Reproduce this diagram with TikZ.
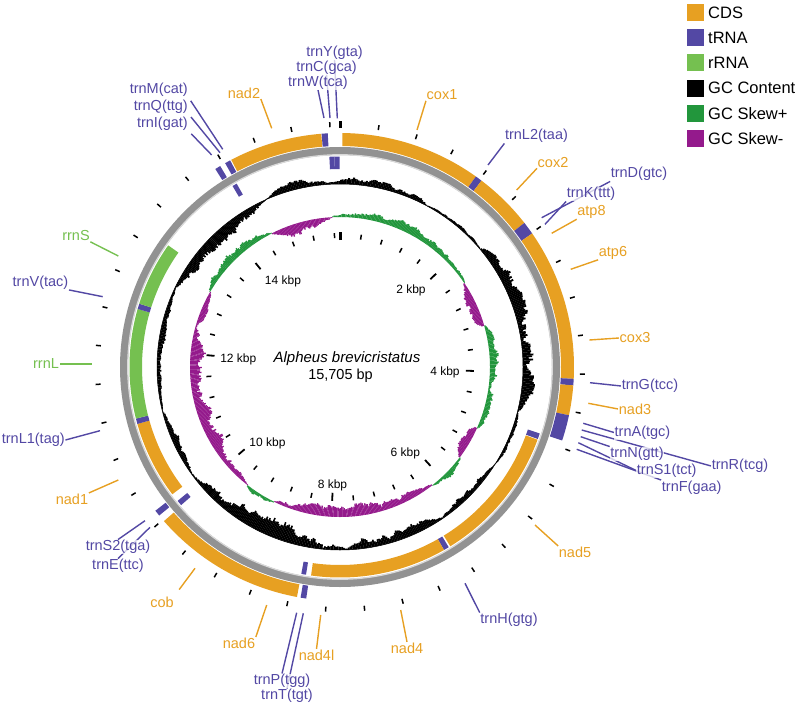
\documentclass[tikz,border=0pt]{standalone}
\usepackage{fontspec}
\setmainfont{Liberation Sans}
\usetikzlibrary{backgrounds}

\definecolor{cdsorange}{RGB}{231,160,34}
\definecolor{trnapurple}{RGB}{83,72,164}
\definecolor{rrnagreen}{RGB}{117,192,80}
\definecolor{skewplus}{RGB}{34,150,60}
\definecolor{skewminus}{RGB}{148,26,140}
\definecolor{ringgray}{RGB}{146,146,146}

% feature on the ring: from, to (degrees clockwise from top), inner r, outer r, colour
\newcommand{\feat}[5]{%
  \pgfmathsetmacro{\feata}{#1-90}\pgfmathsetmacro{\featb}{#2-90}%
  \fill[#5] (\feata:#3) arc[start angle=\feata, end angle=\featb, radius=#3]
    -- (\featb:#4) arc[start angle=\featb, end angle=\feata, radius=#4] -- cycle;}

% jagged plot track: colour, base r, from, to, peak (smoothed random walk)
\def\tkwalk{0}
\newcommand{\trackpart}[5]{%
  \pgfmathtruncatemacro{\nstep}{2*(#4-(#3))-1}
  \foreach \k in {0,...,\nstep}{
    \pgfmathsetmacro{\tka}{#3+0.5*\k-90}
    \pgfmathsetmacro{\tkw}{0.88*\tkwalk+0.36*(rnd-0.5)}
    \global\let\tkwalk\tkw
    \pgfmathsetmacro{\tkr}{#2+(#5)*sqrt(sin(180*((\k+0.5)/(\nstep+1))))*(0.72+\tkw+0.16*rnd)}
    \fill[#1] (\tka:#2) -- (\tka:\tkr) -- (\tka+0.55:\tkr) -- (\tka+0.55:#2) -- cycle;
  }}

\begin{document}
\begin{tikzpicture}[x=1pt, y=-1pt,
    lbl/.style={font=\fontsize{14.5}{16}\selectfont, inner sep=0.5pt, fill=white, fill opacity=0.75, text opacity=1},
    cdslbl/.style={lbl, text=cdsorange},
    trnlbl/.style={lbl, text=trnapurple},
    rrnlbl/.style={lbl, text=rrnagreen},
    cdsline/.style={cdsorange, line width=1.4},
    trnline/.style={trnapurple, line width=1.4},
    rrnline/.style={rrnagreen, line width=1.4},
    kbplbl/.style={font=\fontsize{12}{14}\selectfont, inner sep=0.5pt},
    tickmark/.style={line width=1.5},
    keybox/.style={minimum size=17, inner sep=0},
    keytext/.style={font=\fontsize{16.5}{18}\selectfont, anchor=west, inner sep=0.5pt}]
    \pgfmathsetseed{11}
    \useasboundingbox (0,0) rectangle (800,706);

    \begin{scope}[shift={(340,367)}]
        % Backbone
        \draw[ringgray, line width=8] (0,0) circle[radius=216];
        \draw[gray!30, line width=1.2] (0,0) circle[radius=212.3];

        % Plus strand
        \feat{0.6}{35.5}{221}{234}{cdsorange}     % cox1
        \feat{35.5}{37.2}{221}{234}{trnapurple}   % trnL2
        \feat{37.2}{52.0}{221}{234}{cdsorange}    % cox2
        \feat{52.0}{55.2}{221}{234}{trnapurple}   % trnK, trnD
        \feat{55.2}{92.9}{221}{234}{cdsorange}    % atp8, atp6, cox3
        \feat{92.9}{94.5}{221}{234}{trnapurple}   % trnG
        \feat{94.5}{101.9}{221}{234}{cdsorange}   % nad3
        \feat{101.9}{108.3}{221}{234}{trnapurple} % trnA, trnR, trnN, trnS1
        \feat{188.3}{189.7}{221}{234}{trnapurple} % trnT
        \feat{190.6}{228.8}{221}{234}{cdsorange}  % nad6, cob
        \feat{230.6}{232.1}{221}{234}{trnapurple} % trnS2
        \feat{327.8}{329.2}{221}{234}{trnapurple} % trnI
        \feat{330.6}{332.0}{221}{234}{trnapurple} % trnM
        \feat{332.3}{355.4}{221}{234}{cdsorange}  % nad2
        \feat{355.5}{357.0}{221}{234}{trnapurple} % trnW

        % Minus strand
        \feat{108.4}{110.0}{198}{210.5}{trnapurple} % trnF
        \feat{110.2}{148.4}{198}{210.5}{cdsorange}  % nad5
        \feat{148.9}{150.4}{198}{210.5}{trnapurple} % trnH
        \feat{150.4}{187.9}{198}{210.5}{cdsorange}  % nad4, nad4l
        \feat{189.3}{190.6}{198}{210.5}{trnapurple} % trnP
        \feat{229.0}{230.5}{198}{210.5}{trnapurple} % trnE
        \feat{232.8}{254.3}{198}{210.5}{cdsorange}  % nad1
        \feat{254.3}{255.8}{198}{210.5}{trnapurple} % trnL1
        \feat{255.8}{286.0}{198}{210.5}{rrnagreen}  % rrnL
        \feat{286.0}{287.5}{198}{210.5}{trnapurple} % trnV
        \feat{287.5}{305.3}{198}{210.5}{rrnagreen}  % rrnS
        \feat{329.3}{330.6}{198}{210.5}{trnapurple} % trnQ
        \feat{357.1}{358.5}{198}{210.5}{trnapurple} % trnC
        \feat{358.5}{359.9}{198}{210.5}{trnapurple} % trnY

        % GC content
        \draw[line width=0.5] (0,0) circle[radius=183];
        \foreach \s/\e/\p in {-4/28/9, 28/50/3, 50/104/15, 104/122/4, 122/146/-6, 146/178/-11,
                              178/234/-16, 234/256/-6, 256/296/-5, 296/336/-13, 336/356/8}
            {\trackpart{black}{183}{\s}{\e}{\p}}

        % GC skew
        \foreach \s/\e/\p in {-3/56/7, 74/114/9, 127/142/5, 206/218/5, 300/333/8}
            {\trackpart{skewplus}{150}{\s}{\e}{\p}}
        \foreach \s/\e/\p in {56/74/-10, 114/127/-8, 142/206/-11, 218/300/-13, 333/357/-10}
            {\trackpart{skewminus}{150}{\s}{\e}{\p}}

        % Ticks every 400 bp
        \draw[line width=3] (-90:239) -- (-90:246);
        \draw[line width=3] (-90:127) -- (-90:135);
        \foreach \i in {1,...,39}{
            \pgfmathsetmacro{\ta}{\i*9.16906-90}
            \draw[tickmark] (\ta:240) -- (\ta:245);
            \pgfmathtruncatemacro{\major}{mod(\i,5)==0}
            \ifnum\major=1
                \draw[line width=1.8] (\ta:126) -- (\ta:134);
            \else
                \draw[tickmark] (\ta:129) -- (\ta:134);
            \fi
        }
    \end{scope}

    % Scale labels
    \node[kbplbl] (kb2) at (411,290.5) {2 kbp};
    \node[kbplbl] (kb4) at (445,372.5) {4 kbp};
    \node[kbplbl] (kb6) at (405.3,453.5) {6 kbp};
    \node[kbplbl] (kb8) at (332.5,485) {8 kbp};
    \node[kbplbl] (kb10) at (267.5,443.5) {10 kbp};
    \node[kbplbl] (kb12) at (238.3,359) {12 kbp};
    \node[kbplbl] (kb14) at (283,281.3) {14 kbp};

    % Title
    \node[font=\fontsize{15}{17}\selectfont\itshape] (species) at (347,358.5) {Alpheus brevicristatus};
    \node[font=\fontsize{14.5}{16}\selectfont] (length) at (340.5,376) {15,705 bp};

    % Gene labels
    \node[cdslbl] (cox1) at (442,95) {cox1};
    \node[trnlbl] (trnL2) at (536.5,136) {trnL2(taa)};
    \node[cdslbl] (cox2) at (553,162.5) {cox2};
    \node[trnlbl] (trnD) at (639,174) {trnD(gtc)};
    \node[trnlbl] (trnK) at (591,194) {trnK(ttt)};
    \node[cdslbl] (atp8) at (591.5,212) {atp8};
    \node[cdslbl] (atp6) at (613,252.5) {atp6};
    \node[cdslbl] (cox3) at (635,338) {cox3};
    \node[trnlbl] (trnG) at (650,386) {trnG(tcc)};
    \node[cdslbl] (nad3) at (635,409) {nad3};
    \node[trnlbl] (trnA) at (642.5,432.5) {trnA(tgc)};
    \node[trnlbl] (trnN) at (637,454) {trnN(gtt)};
    \node[trnlbl] (trnR) at (740,466) {trnR(tcg)};
    \node[trnlbl] (trnS1) at (666.7,470.5) {trnS1(tct)};
    \node[trnlbl] (trnF) at (691.7,487.5) {trnF(gaa)};
    \node[cdslbl] (nad5) at (575,552) {nad5};
    \node[trnlbl] (trnH) at (509,620) {trnH(gtg)};
    \node[cdslbl] (nad4) at (407,648) {nad4};
    \node[cdslbl] (nad4l) at (316.5,655) {nad4l};
    \node[trnlbl] (trnP) at (282,681) {trnP(tgg)};
    \node[trnlbl] (trnT) at (287,696) {trnT(tgt)};
    \node[cdslbl] (nad6) at (239,643) {nad6};
    \node[cdslbl] (cob) at (162,602) {cob};
    \node[trnlbl] (trnS2) at (118,547) {trnS2(tga)};
    \node[trnlbl] (trnE) at (118,566) {trnE(ttc)};
    \node[cdslbl] (nad1) at (72,499) {nad1};
    \node[trnlbl] (trnL1) at (33.3,440) {trnL1(tag)};
    \node[rrnlbl] (rrnL) at (46,364) {rrnL};
    \node[trnlbl] (trnV) at (40.5,282.5) {trnV(tac)};
    \node[rrnlbl] (rrnS) at (76,236) {rrnS};
    \node[trnlbl, anchor=east] (trnM) at (188.5,90) {trnM(cat)};
    \node[trnlbl, anchor=east] (trnQ) at (188.5,106.5) {trnQ(ttg)};
    \node[trnlbl, anchor=east] (trnI) at (188.5,123.5) {trnI(gat)};
    \node[cdslbl] (nad2) at (244,93) {nad2};
    \node[trnlbl] (trnW) at (318,82.5) {trnW(tca)};
    \node[trnlbl] (trnC) at (326.5,67.5) {trnC(gca)};
    \node[trnlbl] (trnY) at (334.5,52.5) {trnY(gta)};

    % Leader ends at the ring
    \coordinate (cox1-r) at (417,130);
    \coordinate (trnL2-r) at (488,165);
    \coordinate (cox2-r) at (516.7,190);
    \coordinate (trnD-r) at (541.7,217.7);
    \coordinate (trnK-r) at (545,224.3);
    \coordinate (atp8-r) at (551.7,233.3);
    \coordinate (atp6-r) at (570.7,269.3);
    \coordinate (cox3-r) at (589.3,340);
    \coordinate (trnG-r) at (590,382.7);
    \coordinate (nad3-r) at (588.3,403.3);
    \coordinate (trnA-r) at (583.3,423.3);
    \coordinate (trnR-r) at (581.7,430);
    \coordinate (trnN-r) at (580.7,436.7);
    \coordinate (trnS1-r) at (578.3,442.7);
    \coordinate (trnF-r) at (576.7,449.3);
    \coordinate (nad5-r) at (535,525);
    \coordinate (trnH-r) at (465,583.3);
    \coordinate (nad4-r) at (400.7,610);
    \coordinate (nad4l-r) at (320.7,615);
    \coordinate (trnP-r) at (296.7,612.7);
    \coordinate (trnT-r) at (303.3,613.3);
    \coordinate (nad6-r) at (266.7,605);
    \coordinate (cob-r) at (195,568.3);
    \coordinate (trnS2-r) at (145,520.7);
    \coordinate (trnE-r) at (150,527.3);
    \coordinate (nad1-r) at (118.3,480);
    \coordinate (trnL1-r) at (100,430.7);
    \coordinate (rrnL-r) at (91.7,364);
    \coordinate (trnV-r) at (102.7,296.7);
    \coordinate (rrnS-r) at (118.3,256);
    \coordinate (trnI-r) at (211.7,155);
    \coordinate (trnQ-r) at (220,152.7);
    \coordinate (trnM-r) at (222.7,149.3);
    \coordinate (nad2-r) at (271.7,128.3);
    \coordinate (trnW-r) at (324,118);
    \coordinate (trnC-r) at (330,118);
    \coordinate (trnY-r) at (337.3,118.3);

    % Leaders
    \begin{scope}[on background layer]
        \draw[cdsline] (cox1-r) -- (cox1.south west);
        \draw[trnline] (trnL2-r) -- (trnL2.south west);
        \draw[cdsline] (cox2-r) -- (cox2.south west);
        \draw[trnline] (trnD-r) -- (trnD.south west);
        \draw[trnline] (trnK-r) -- (trnK.south west);
        \draw[cdsline] (atp8-r) -- (atp8.south west);
        \draw[cdsline] (atp6-r) -- (atp6.south west);
        \draw[cdsline] (cox3-r) -- (cox3.west);
        \draw[trnline] (trnG-r) -- (trnG.west);
        \draw[cdsline] (nad3-r) -- (nad3.west);
        \draw[trnline] (trnA-r) -- (trnA.west);
        \draw[trnline] (trnR-r) -- (trnR.west);
        \draw[trnline] (trnN-r) -- (trnN.north west);
        \draw[trnline] (trnS1-r) -- (trnS1.west);
        \draw[trnline] (trnF-r) -- (trnF.north west);
        \draw[cdsline] (nad5-r) -- (nad5.north west);
        \draw[trnline] (trnH-r) -- (trnH.north west);
        \draw[cdsline] (nad4-r) -- (nad4.north);
        \draw[cdsline] (nad4l-r) -- (nad4l.north);
        \draw[trnline] (trnP-r) -- (trnP.north);
        \draw[trnline] (trnT-r) -- (trnT.north);
        \draw[cdsline] (nad6-r) -- (nad6.north east);
        \draw[cdsline, shorten >=8] (cob-r) -- (cob.north east);
        \draw[trnline] (trnS2-r) -- (trnS2.north);
        \draw[trnline] (trnE-r) -- (trnE.north);
        \draw[cdsline] (nad1-r) -- (nad1.north east);
        \draw[trnline] (trnL1-r) -- (trnL1.east);
        \draw[rrnline] (rrnL-r) -- (rrnL.east);
        \draw[trnline] (trnV-r) -- (trnV.south east);
        \draw[rrnline] (rrnS-r) -- (rrnS.south east);
        \draw[trnline, shorten >=4] (trnI-r) -- (trnI.south east);
        \draw[trnline, shorten >=4] (trnQ-r) -- (trnQ.south east);
        \draw[trnline, shorten >=4] (trnM-r) -- (trnM.south east);
        \draw[cdsline] (nad2-r) -- (nad2.south east);
        \draw[trnline] (trnW-r) -- (trnW.south);
        \draw[trnline] (trnC-r) -- (trnC.south);
        \draw[trnline] (trnY-r) -- (trnY.south);
    \end{scope}

    % Legend
    \node[keybox, fill=cdsorange] (key1) at (695,12.5) {};
    \node[keybox, fill=trnapurple] (key2) at (695,37.7) {};
    \node[keybox, fill=rrnagreen] (key3) at (695,62.9) {};
    \node[keybox, fill=black] (key4) at (695,88.1) {};
    \node[keybox, fill=skewplus] (key5) at (695,113.3) {};
    \node[keybox, fill=skewminus] (key6) at (695,138.5) {};
    \node[keytext] (keyt1) at (707.5,12.5) {CDS};
    \node[keytext] (keyt2) at (707.5,37.7) {tRNA};
    \node[keytext] (keyt3) at (707.5,62.9) {rRNA};
    \node[keytext] (keyt4) at (707.5,88.1) {GC Content};
    \node[keytext] (keyt5) at (707.5,113.3) {GC Skew+};
    \node[keytext] (keyt6) at (707.5,138.5) {GC Skew-};
\end{tikzpicture}
\end{document}
